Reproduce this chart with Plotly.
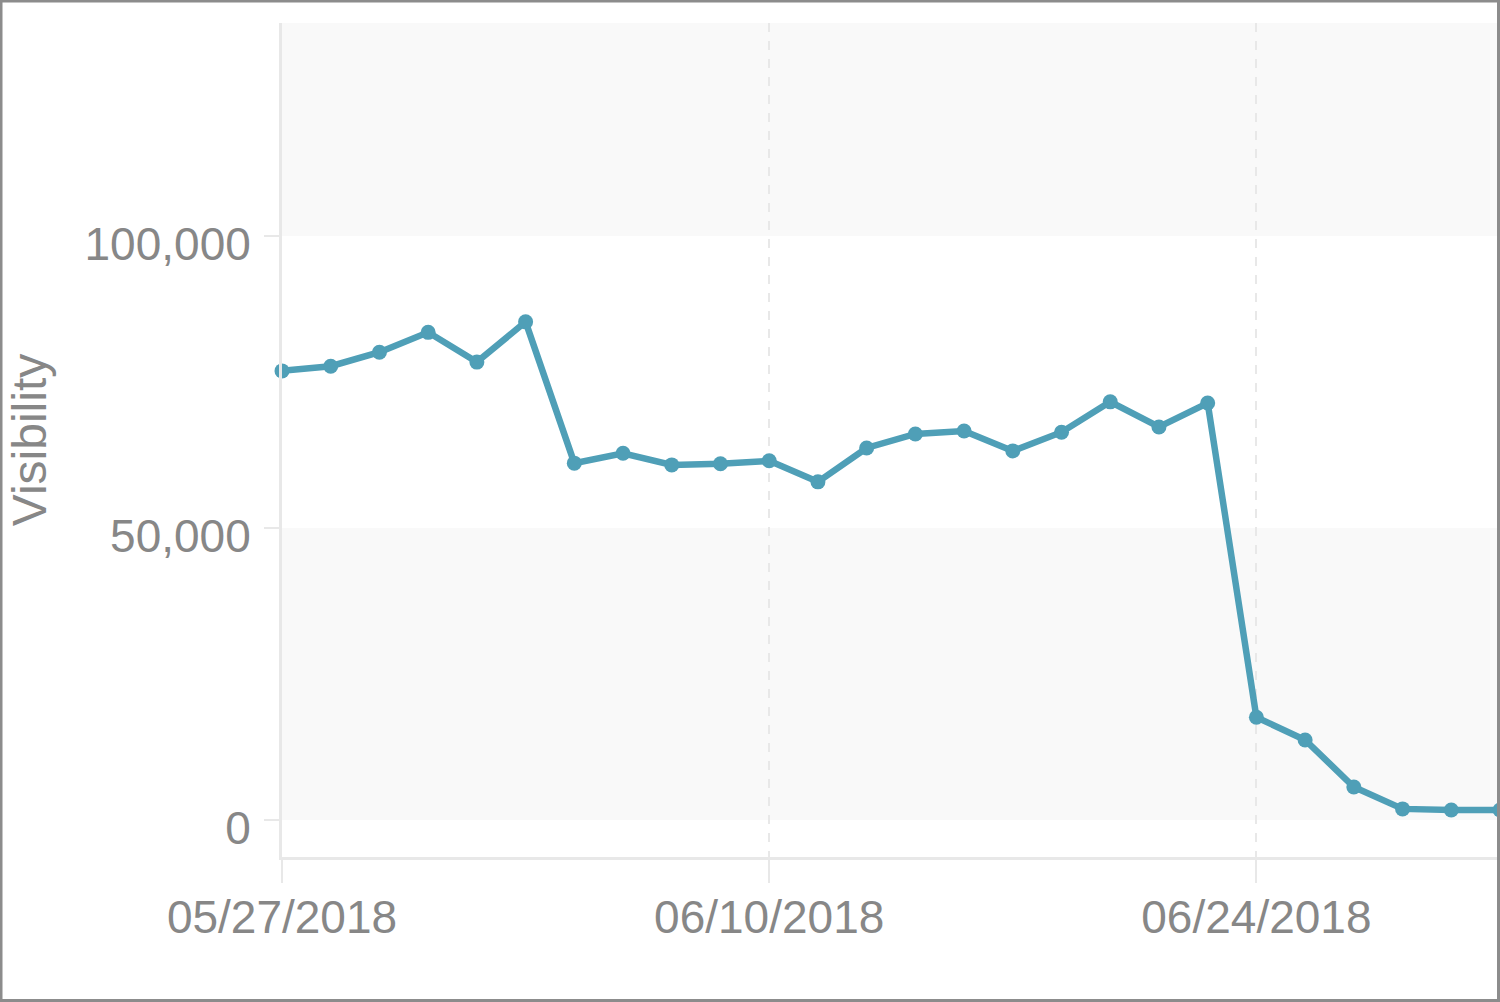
import plotly.graph_objects as go

dates = [
    "2018-05-27 00:00", "2018-05-28 09:36", "2018-05-29 19:12", "2018-05-31 04:48",
    "2018-06-01 14:24", "2018-06-03 00:00", "2018-06-04 09:36", "2018-06-05 19:12",
    "2018-06-07 04:48", "2018-06-08 14:24", "2018-06-10 00:00", "2018-06-11 09:36",
    "2018-06-12 19:12", "2018-06-14 04:48", "2018-06-15 14:24", "2018-06-17 00:00",
    "2018-06-18 09:36", "2018-06-19 19:12", "2018-06-21 04:48", "2018-06-22 14:24",
    "2018-06-24 00:00", "2018-06-25 09:36", "2018-06-26 19:12", "2018-06-28 04:48",
    "2018-06-29 14:24", "2018-07-01 00:00",
]
visibility = [
    76900, 77700, 80100, 83500, 78400, 85300, 61100, 62800, 60800, 61000,
    61500, 57900, 63700, 66100, 66600, 63200, 66400, 71600, 67300, 71400,
    17600, 13700, 5650, 1900, 1700, 1700,
]
y_title = "Visibility"
x_tick_start = "2018-05-27"
x_range = ["2018-05-27 00:00", "2018-07-01 00:00"]
y_range = [-6340, 136470]
band_edges = [(0, 50000), (100000, 136470)]

W, H = 1500, 1002
ML, MR, MT, MB = 282, 0, 23, 145
pw, ph = W - ML - MR, H - MT - MB

text_color = "#878787"
grid_color = "#e8e8e8"
line_color = "#4f9fb7"
font_family = "Liberation Sans, Arial, sans-serif"

fig = go.Figure()
fig.add_trace(go.Scatter(
    x=dates, y=visibility, mode="lines+markers",
    line=dict(color=line_color, width=6.5),
    marker=dict(color=line_color, size=15),
    cliponaxis=False,
    showlegend=False,
))

shapes = []
for lo, hi in band_edges:
    shapes.append(dict(type="rect", xref="paper", yref="y", x0=0, x1=1, y0=lo, y1=hi,
                       fillcolor="#f9f9f9", line=dict(width=0), layer="below"))
# outer frame
shapes.append(dict(type="rect", xref="paper", yref="paper",
                   x0=-ML / pw + 1 / pw, x1=1 + MR / pw - 1.5 / pw,
                   y0=-MB / ph + 1.5 / ph, y1=1 + MT / ph - 1 / ph,
                   line=dict(color="#8c8c8c", width=3), fillcolor="rgba(0,0,0,0)",
                   layer="above"))

fig.update_layout(
    width=W, height=H,
    margin=dict(l=ML, r=MR, t=MT, b=MB, pad=0),
    paper_bgcolor="white", plot_bgcolor="white",
    font=dict(family=font_family, color=text_color, size=46),
    shapes=shapes,
    xaxis=dict(
        type="date", range=x_range, tick0=x_tick_start, dtick=14 * 86400000,
        tickformat="%m/%d/%Y", showgrid=True, gridcolor=grid_color, griddash="dash",
        gridwidth=2, showline=True, linecolor=grid_color, linewidth=3,
        ticks="outside", ticklen=23, tickwidth=2, tickcolor=grid_color,
        ticklabelstandoff=-5, zeroline=False,
        tickfont=dict(size=46, color=text_color),
    ),
    yaxis=dict(
        range=y_range, tickvals=[0, 50000, 100000], tickformat=",d",
        showgrid=False, zeroline=False, showline=True, linecolor=grid_color,
        linewidth=3, ticks="outside", ticklen=15, tickwidth=2, tickcolor=grid_color,
        ticklabelstandoff=4, ticklabelshift=8, tickfont=dict(size=46, color=text_color),
        title=dict(text=y_title, font=dict(size=48, color=text_color), standoff=23),
    ),
)

fig.write_html("out.html", config={"displayModeBar": False},
               post_script="document.body.style.margin='0';document.body.style.overflow='hidden';")
